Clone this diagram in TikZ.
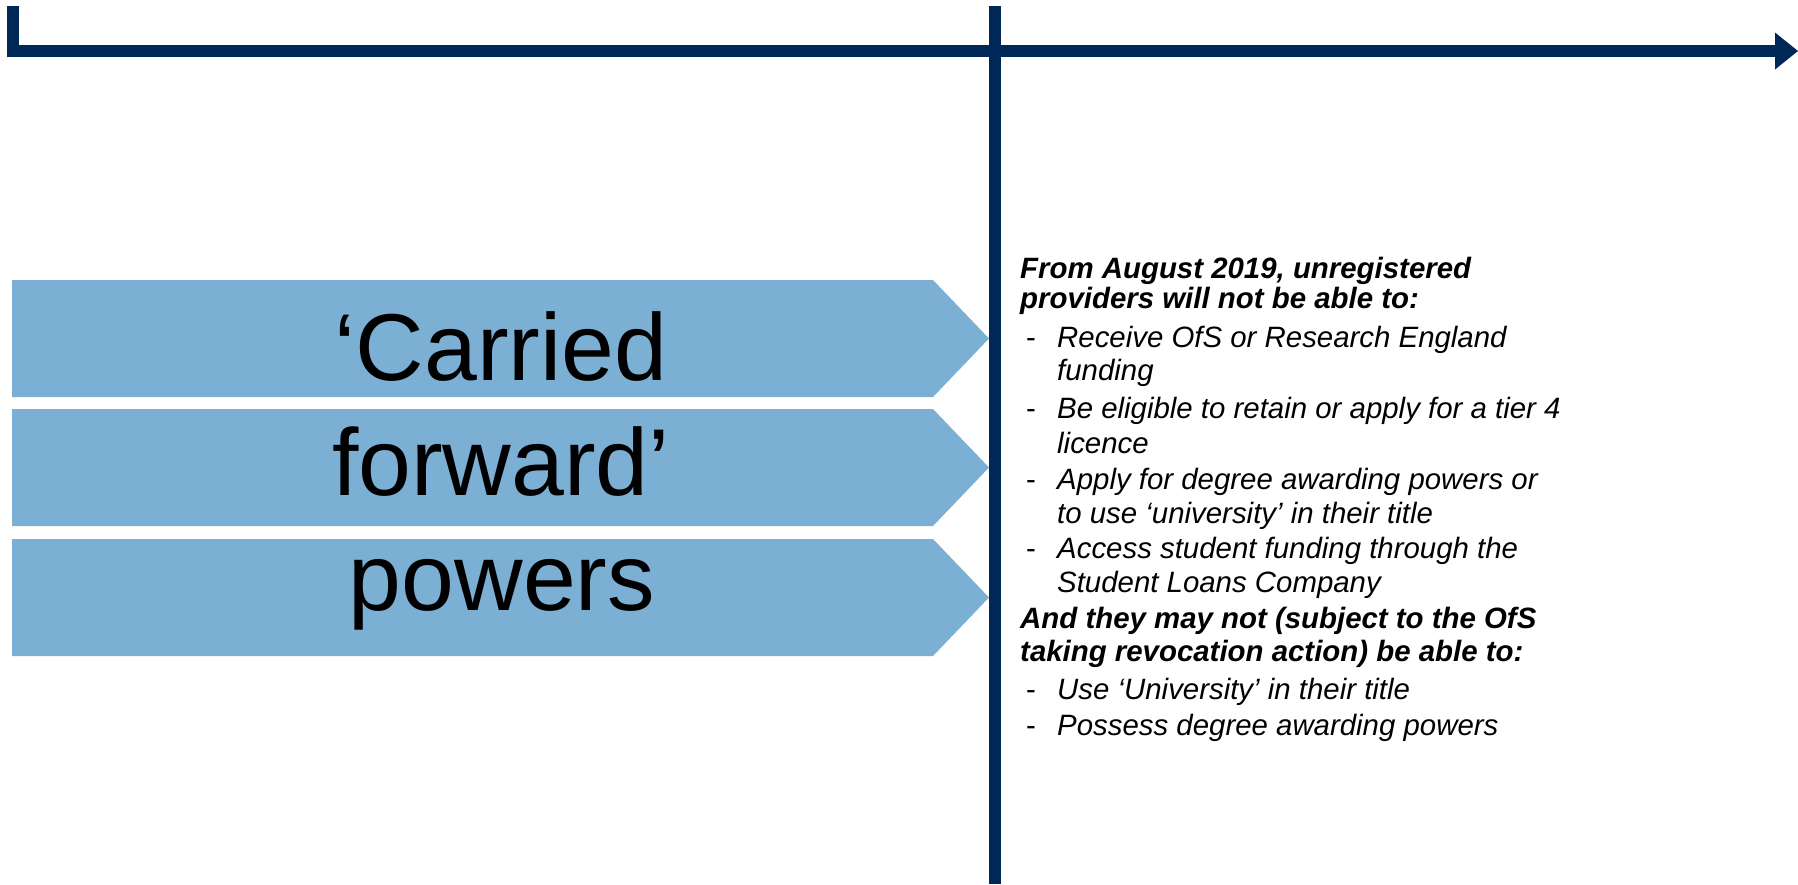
\documentclass[tikz,border=0pt]{standalone}
\usepackage{fontspec}
\setmainfont{Liberation Sans}
\definecolor{navy}{RGB}{0,40,86}
\definecolor{boxblue}{RGB}{123,175,212}
\tikzset{
  navyline/.style={draw=navy, line width=12pt, line join=miter, line cap=butt},
  boxarrow/.style={fill=boxblue, draw=none},
  bigtext/.style={anchor=base, inner sep=0pt, font=\fontsize{95}{115}\selectfont},
  headtext/.style={anchor=base west, inner sep=0pt, font=\fontsize{29.4}{34}\selectfont\bfseries\itshape},
  itemtext/.style={anchor=base west, inner sep=0pt, font=\fontsize{29.4}{34}\selectfont\itshape},
  dashtext/.style={anchor=base west, inner sep=0pt, font=\fontsize{29.4}{34}\selectfont},
}
\begin{document}
\begin{tikzpicture}[x=1pt,y=-1pt]
\useasboundingbox (0,0) rectangle (1798,884);
% axes
\coordinate (ltop) at (12.5,6);
\coordinate (corner) at (12.5,51);
\coordinate (hend) at (1776,51);
\coordinate (vtop) at (995,6);
\coordinate (vbot) at (995,884);
\draw[navyline] (ltop) -- (corner) -- (hend);
\fill[navy] (1775,32.5) -- (1798,51) -- (1775,69.5) -- cycle;
% arrow boxes
\fill[boxarrow] (12,280) -- (933,280) -- (989,338.5) -- (933,397) -- (12,397) -- cycle;
\fill[boxarrow] (12,409) -- (933,409) -- (989,467.5) -- (933,526) -- (12,526) -- cycle;
\fill[boxarrow] (12,539) -- (933,539) -- (989,597.5) -- (933,656) -- (12,656) -- cycle;
\draw[navyline] (vtop) -- (vbot);
% big text
\node[bigtext] (t1) at (501,380) {‘Carried};
\node[bigtext] (t2) at (501,495) {forward’};
\node[bigtext] (t3) at (502,610) {powers};
% right text
\node[headtext] (h1) at (1020,278) {From August 2019, unregistered};
\node[headtext] (h2) at (1020,308) {providers will not be able to:};
\node[dashtext] (d1) at (1026,347) {-};
\node[itemtext] (i1) at (1057,347) {Receive OfS or Research England};
\node[itemtext] (i1b) at (1057,380) {funding};
\node[dashtext] (d2) at (1026,418) {-};
\node[itemtext] (i2) at (1057,418) {Be eligible to retain or apply for a tier 4};
\node[itemtext] (i2b) at (1057,453) {licence};
\node[dashtext] (d3) at (1026,489) {-};
\node[itemtext] (i3) at (1057,489) {Apply for degree awarding powers or};
\node[itemtext] (i3b) at (1057,523) {to use ‘university’ in their title};
\node[dashtext] (d4) at (1026,558) {-};
\node[itemtext] (i4) at (1057,558) {Access student funding through the};
\node[itemtext] (i4b) at (1057,592) {Student Loans Company};
\node[headtext] (h3) at (1020,628) {And they may not (subject to the OfS};
\node[headtext] (h4) at (1020,661) {taking revocation action) be able to:};
\node[dashtext] (d5) at (1026,699) {-};
\node[itemtext] (i5) at (1057,699) {Use ‘University’ in their title};
\node[dashtext] (d6) at (1026,735) {-};
\node[itemtext] (i6) at (1057,735) {Possess degree awarding powers};
\end{tikzpicture}
\end{document}
